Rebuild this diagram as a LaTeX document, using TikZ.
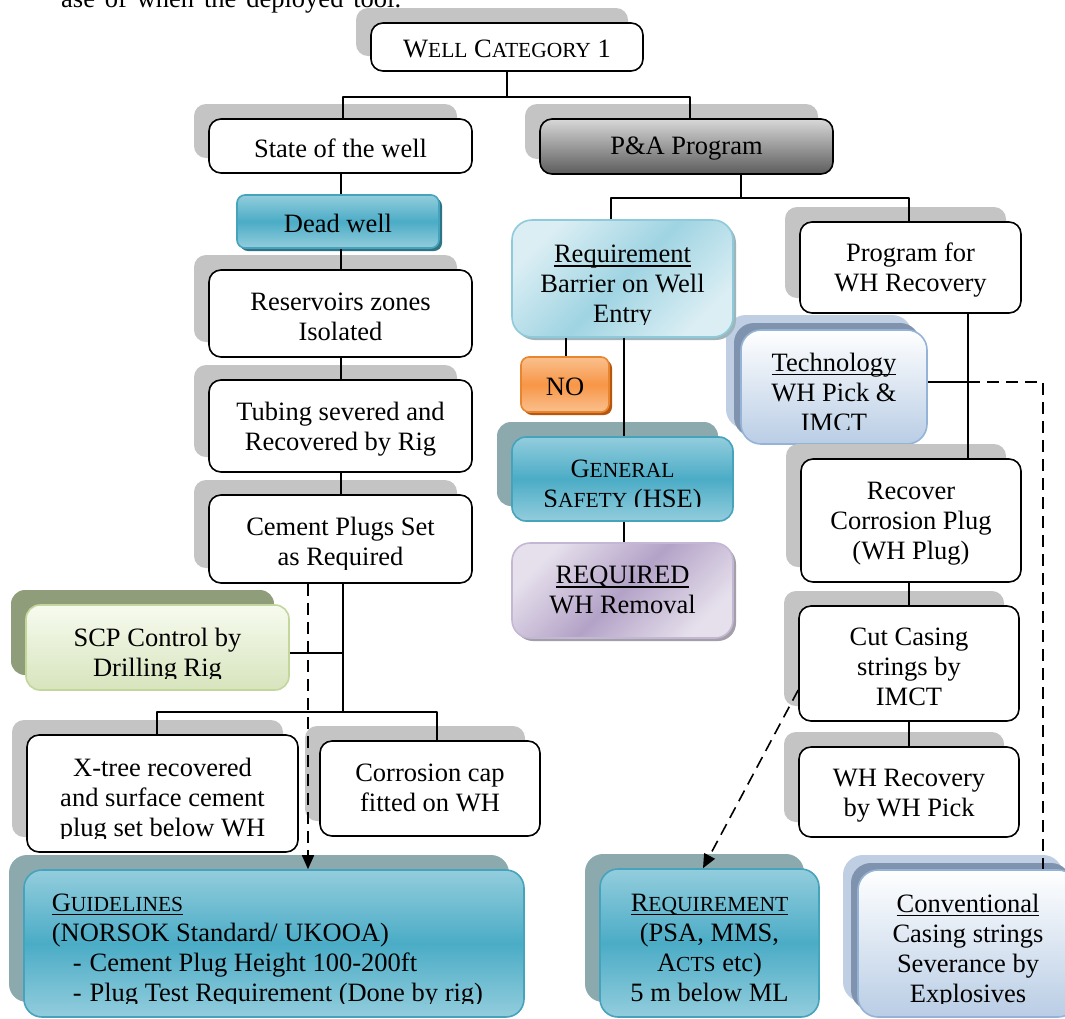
\documentclass[tikz,border=0pt]{standalone}
\usepackage{fontspec}
\setmainfont{Liberation Serif}
\usetikzlibrary{shadows,arrows.meta}

\definecolor{shgray}{HTML}{C4C4C4}
\definecolor{tealD}{HTML}{4BACC6}
\definecolor{tealL}{HTML}{93CDDD}
\definecolor{tealB}{HTML}{45A3BC}
\definecolor{tealSh}{HTML}{8CA9AE}
\definecolor{tealDk}{HTML}{2E7486}
\definecolor{orD}{HTML}{F79646}
\definecolor{orL}{HTML}{FAC08F}
\definecolor{orB}{HTML}{E8852F}
\definecolor{orSh}{HTML}{B8560F}
\definecolor{rqD}{HTML}{9FD4E2}
\definecolor{rqL}{HTML}{DBEEF4}
\definecolor{rqB}{HTML}{8FCADA}
\definecolor{rqSh}{HTML}{9EB5BB}
\definecolor{puD}{HTML}{B3A2C7}
\definecolor{puL}{HTML}{E6E0EC}
\definecolor{puB}{HTML}{C4B7D4}
\definecolor{puSh}{HTML}{A39FA8}
\definecolor{blT}{HTML}{FFFFFF}
\definecolor{blB}{HTML}{B9CDE5}
\definecolor{blBd}{HTML}{95B3D7}
\definecolor{blShD}{HTML}{7F93AE}
\definecolor{blShL}{HTML}{BFCEE2}
\definecolor{grT}{HTML}{F7FBEF}
\definecolor{grB}{HTML}{D7E4BD}
\definecolor{grBd}{HTML}{C3D69B}
\definecolor{grSh}{HTML}{909D7A}
\definecolor{paT}{HTML}{D8D8D8}
\definecolor{paB}{HTML}{5C5C5C}

\newcommand\smc[1]{{\fontsize{21.5}{30}\selectfont #1}}
\newcommand\bodyfont{\fontsize{26.5}{30}\selectfont}
% underline at a fixed depth below the baseline, through descenders
\newcommand\undl[1]{\leavevmode\setbox0\hbox{#1}\rlap{\vrule width\wd0 height -2.6pt depth 4.2pt}\box0}

\tikzset{
  clipgap/.store in=\clipgap, clipgap=14pt,
  textdrop/.store in=\textdrop, textdrop=22pt,
  lbltext/.style={inner sep=0pt, minimum width=0pt, minimum height=0pt, align=center,
      font=\bodyfont, text=black},
  % one line, centred in the box
  lbl/.style={path picture={
      \node[lbltext] at ([yshift=-2pt]path picture bounding box.center) {#1};}},
  % several lines hung from the top, cut off above the lower edge
  lblt/.style={path picture={
      \clip ([yshift=\clipgap]path picture bounding box.south west) rectangle (path picture bounding box.north east);
      \node[lbltext, anchor=north] at ([yshift=-\textdrop]path picture bounding box.north) {#1};}},
  box/.style={draw, line width=1.6pt, rounded corners=12pt, inner sep=0pt, fill=white},
  graysh/.style={general shadow={draw=none, fill=shgray, shadow xshift=-15pt, shadow yshift=15pt}},
  plain/.style={box, graysh},
  greybox/.style={box, top color=paT, bottom color=paB, graysh},
  tealfill/.style={box, draw=tealB, top color=tealL, bottom color=tealL, middle color=tealD},
  deadbox/.style={tealfill, rounded corners=8pt,
      general shadow={draw=none, fill=tealDk, shadow xshift=3pt, shadow yshift=-3pt}},
  tealbox/.style={tealfill, rounded corners=18pt,
      general shadow={draw=none, fill=tealSh, shadow xshift=-15pt, shadow yshift=15pt}},
  nobox/.style={box, draw=orB, rounded corners=8pt, top color=orL, bottom color=orL, middle color=orD,
      general shadow={draw=none, fill=orSh, shadow xshift=3pt, shadow yshift=-3pt}},
  reqbox/.style={box, draw=rqB, rounded corners=20pt, top color=rqL, bottom color=rqL, middle color=rqD,
      shading angle=45, general shadow={draw=none, fill=rqSh, shadow xshift=3pt, shadow yshift=-3pt}},
  purbox/.style={box, draw=puB, rounded corners=18pt, top color=puL, bottom color=puL, middle color=puD,
      shading angle=45, general shadow={draw=none, fill=puSh, shadow xshift=3pt, shadow yshift=-3pt}},
  bluebox/.style={box, draw=blBd, rounded corners=20pt, top color=blT, bottom color=blB,
      general shadow={draw=none, fill=blShL, shadow xshift=-15pt, shadow yshift=15pt},
      general shadow={draw=none, fill=blShD, shadow xshift=-7pt, shadow yshift=7pt}},
  greenbox/.style={box, draw=grBd, rounded corners=14pt, top color=grT, bottom color=grB,
      general shadow={draw=none, fill=grSh, shadow xshift=-15pt, shadow yshift=15pt}},
  conn/.style={line width=1.6pt},
  dconn/.style={conn, dash pattern=on 12pt off 7pt},
  tip/.style={-{Triangle[length=14pt,width=12pt]}}
}

\begin{document}
\begin{tikzpicture}[x=1pt,y=-1pt,line join=round]
\clip (0,0) rectangle (1065,1018);
\fill[white] (0,0) rectangle (1065,1018);

% running text above the chart
\node[lbltext, anchor=base west] (lead) at (61,7) {\makebox[340pt][s]{ase of when the deployed tool.}};

% top of the tree
\node[plain, minimum width=272, minimum height=48, lbl={W\smc{ELL} C\smc{ATEGORY} 1}] (cat) at (507,47) {};
\node[plain, minimum width=263, minimum height=54, lbl={State of the well}] (state) at (340.5,146) {};
\node[greybox, minimum width=293, minimum height=55, lbl={P\&A Program}] (pa) at (686.5,146.5) {};

% left column
\node[deadbox, minimum width=202, minimum height=53, lbl={Dead well}] (dead) at (338,221.5) {};
\node[plain, minimum width=263, minimum height=87, lblt={Reservoirs zones\\Isolated}] (res) at (340.5,313.5) {};
\node[plain, minimum width=263, minimum height=92, textdrop=21pt, lblt={Tubing severed and\\Recovered by Rig}] (tub) at (340.5,426) {};
\node[plain, minimum width=263, minimum height=88, textdrop=21pt, lblt={Cement Plugs Set\\as Required}] (cem) at (340.5,539) {};
\node[greenbox, minimum width=263, minimum height=85, clipgap=12pt, lblt={SCP Control by\\Drilling Rig}] (scp) at (157.5,647.5) {};
\node[plain, minimum width=271, minimum height=117, lblt={X-tree recovered\\and surface cement\\plug set below WH}] (xtree) at (162.5,793.5) {};
\node[plain, minimum width=220, minimum height=95, lblt={Corrosion cap\\fitted on WH}] (cap) at (430,788.5) {};
\node[tealbox, minimum width=500, minimum height=147, path picture={
    \clip ([yshift=\clipgap]path picture bounding box.south west) rectangle (path picture bounding box.north east);
    \node[lbltext, anchor=base west] at ([xshift=27pt,yshift=-41pt]path picture bounding box.north west) {\undl{G\smc{UIDELINES}}};
    \node[lbltext, anchor=base west] at ([xshift=27pt,yshift=-71pt]path picture bounding box.north west) {(NORSOK Standard/ UKOOA)};
    \node[lbltext, anchor=base west] at ([xshift=48pt,yshift=-101pt]path picture bounding box.north west) {-\hspace{8pt}Cement Plug Height 100-200ft};
    \node[lbltext, anchor=base west] at ([xshift=48pt,yshift=-131pt]path picture bounding box.north west) {-\hspace{8pt}Plug Test Requirement (Done by rig)};
  }] (guide) at (274,943.5) {};

% middle column
\node[bluebox, minimum width=186, minimum height=114, clipgap=15pt, lblt={\undl{Technology}\\WH Pick \&\\IMCT}] (tech) at (834,387) {};
\node[reqbox, minimum width=221, minimum height=117, clipgap=13pt, textdrop=24pt, lblt={\undl{Requirement}\\Barrier on Well\\Entry}] (req1) at (622.5,278.5) {};
\node[nobox, minimum width=88, minimum height=55, lbl={NO}] (no) at (565,384.5) {};
\node[tealbox, rounded corners=14pt, minimum width=221, minimum height=84, clipgap=15pt, lblt={G\smc{ENERAL}\\S\smc{AFETY} (HSE)}] (gsafe) at (622.5,479) {};
\node[purbox, minimum width=221, minimum height=95, lblt={\undl{REQUIRED}\\WH Removal}] (reqd) at (622.5,590.5) {};
\node[tealbox, minimum width=219, minimum height=148, textdrop=24pt, lblt={\undl{R\smc{EQUIREMENT}}\\(PSA, MMS,\\A\smc{CTS} etc)\\5 m below ML}] (req2) at (709.5,943) {};

% right column
\node[plain, minimum width=221, minimum height=91, textdrop=20pt, lblt={Program for\\WH Recovery}] (prog) at (910.5,267.5) {};
\node[plain, minimum width=220, minimum height=123, lblt={Recover\\Corrosion Plug\\(WH Plug)}] (rcp) at (911,520.5) {};
\node[plain, minimum width=220, minimum height=115, textdrop=21pt, lblt={Cut Casing\\strings by\\IMCT}] (cut) at (909,663.5) {};
\node[plain, minimum width=220, minimum height=90, textdrop=21pt, lblt={WH Recovery\\by WH Pick}] (whr) at (909,792) {};
\node[bluebox, minimum width=220, minimum height=147, textdrop=23pt, lblt={\undl{Conventional}\\Casing strings\\Severance by\\Explosives}] (conv) at (968,943.5) {};

% junction points
\coordinate (j1) at (507,97);
\coordinate (j2) at (741,198);
\coordinate (j3) at (343,712);
\coordinate (j4) at (968,382);

% connectors
\draw[conn] (cat.south) -- (j1);
\draw[conn] (state.north -| 343,0) |- (j1) -| (pa.north -| 690,0);
\draw[conn] (state.south -| 341,0) -- (dead.north -| 341,0);
\draw[conn] (dead.south -| 341,0) -- (res.north -| 341,0);
\draw[conn] (res.south -| 341,0) -- (tub.north -| 341,0);
\draw[conn] (tub.south -| 341,0) -- (cem.north -| 341,0);
\draw[conn] (cem.south -| j3) -- (j3);
\draw[conn] (scp.east |- 0,653) -- (j3 |- 0,653);
\draw[conn] (xtree.north -| 157,0) |- (j3) -| (cap.north -| 437,0);
\draw[dconn, tip] (cem.south -| 308,0) -- (guide.north -| 308,0);

\draw[conn] (pa.south -| j2) -- (j2);
\draw[conn] (req1.north -| 611,0) |- (j2) -| (prog.north -| 909,0);
\draw[conn] (req1.south -| 566,0) -- (no.north -| 566,0);
\draw[conn] (req1.south -| 624,0) -- (gsafe.north -| 624,0);
\draw[conn] (gsafe.south -| 624,0) -- (reqd.north -| 624,0);

\draw[conn] (prog.south -| j4) -- (rcp.north -| j4);
\draw[conn] (rcp.south -| 909,0) -- (cut.north -| 909,0);
\draw[conn] (cut.south -| 909,0) -- (whr.north -| 909,0);
\draw[conn] (tech.east |- j4) -- (j4);
\draw[dconn] (j4) -| (conv.north -| 1043,0);
\draw[dconn, tip] (cut.west |- 0,690) -- (req2.north -| 703,0);
\end{tikzpicture}
\end{document}
